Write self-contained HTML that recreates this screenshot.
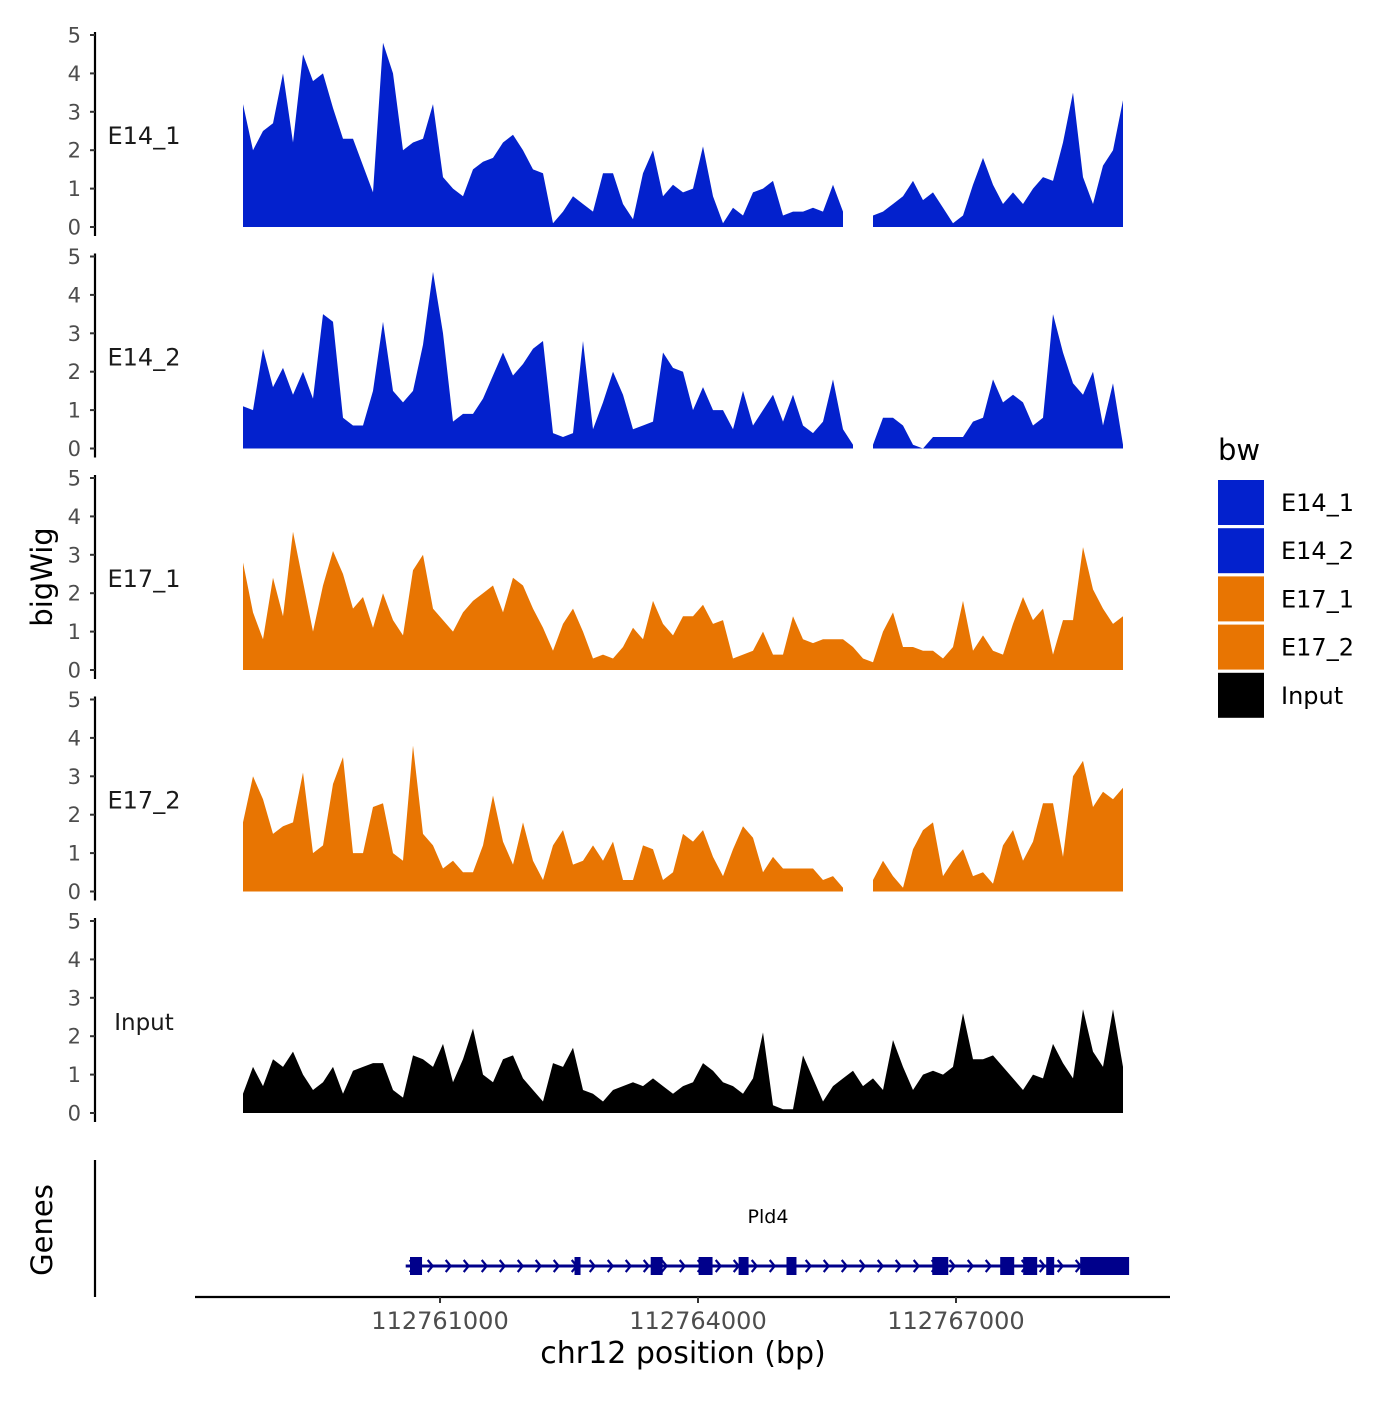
<!DOCTYPE html>
<html><head><meta charset="utf-8"><style>
body{margin:0;background:#fff}
svg text{font-family:"DejaVu Sans","Liberation Sans",sans-serif}
</style></head><body>
<svg id="c" width="1400" height="1400" xmlns="http://www.w3.org/2000/svg"></svg>
<script>
const genomeStart = 112758709, genomeEnd = 112768942;
const trackNames = ["E14_1","E14_2","E17_1","E17_2","Input"];
const trackColors = ["#0321cd","#0321cd","#e87502","#e87502","#000000"];
const yTicks = [0,1,2,3,4,5];
const xTicks = [112761000,112764000,112767000];
const xTickLabels = ["112761000","112764000","112767000"];
const e14_1 = [3.2,2.0,2.5,2.7,4.0,2.2,4.5,3.8,4.0,3.1,2.3,2.3,1.6,0.9,4.8,4.0,2.0,2.2,2.3,3.2,1.3,1.0,0.8,1.5,1.7,1.8,2.2,2.4,2.0,1.5,1.4,0.1,0.4,0.8,0.6,0.4,1.4,1.4,0.6,0.2,1.4,2.0,0.8,1.1,0.9,1.0,2.1,0.8,0.1,0.5,0.3,0.9,1.0,1.2,0.3,0.4,0.4,0.5,0.4,1.1,0.4,null,null,0.3,0.4,0.6,0.8,1.2,0.7,0.9,0.5,0.1,0.3,1.1,1.8,1.1,0.6,0.9,0.6,1.0,1.3,1.2,2.2,3.5,1.3,0.6,1.6,2.0,3.3];
const e14_2 = [1.1,1.0,2.6,1.6,2.1,1.4,2.0,1.3,3.5,3.3,0.8,0.6,0.6,1.5,3.3,1.5,1.2,1.5,2.7,4.6,3.0,0.7,0.9,0.9,1.3,1.9,2.5,1.9,2.2,2.6,2.8,0.4,0.3,0.4,2.8,0.5,1.2,2.0,1.4,0.5,0.6,0.7,2.5,2.1,2.0,1.0,1.6,1.0,1.0,0.5,1.5,0.6,1.0,1.4,0.7,1.4,0.6,0.4,0.7,1.8,0.5,0.1,null,0.1,0.8,0.8,0.6,0.1,0.0,0.3,0.3,0.3,0.3,0.7,0.8,1.8,1.2,1.4,1.2,0.6,0.8,3.5,2.5,1.7,1.4,2.0,0.6,1.7,0.1];
const e17_1 = [2.8,1.5,0.8,2.4,1.4,3.6,2.3,1.0,2.2,3.1,2.5,1.6,1.9,1.1,2.0,1.3,0.9,2.6,3.0,1.6,1.3,1.0,1.5,1.8,2.0,2.2,1.5,2.4,2.2,1.6,1.1,0.5,1.2,1.6,1.0,0.3,0.4,0.3,0.6,1.1,0.8,1.8,1.2,0.9,1.4,1.4,1.7,1.2,1.3,0.3,0.4,0.5,1.0,0.4,0.4,1.4,0.8,0.7,0.8,0.8,0.8,0.6,0.3,0.2,1.0,1.5,0.6,0.6,0.5,0.5,0.3,0.6,1.8,0.5,0.9,0.5,0.4,1.2,1.9,1.3,1.6,0.4,1.3,1.3,3.2,2.1,1.6,1.2,1.4];
const e17_2 = [1.8,3.0,2.4,1.5,1.7,1.8,3.1,1.0,1.2,2.8,3.5,1.0,1.0,2.2,2.3,1.0,0.8,3.8,1.5,1.2,0.6,0.8,0.5,0.5,1.2,2.5,1.3,0.7,1.8,0.8,0.3,1.2,1.6,0.7,0.8,1.2,0.8,1.3,0.3,0.3,1.2,1.1,0.3,0.5,1.5,1.3,1.6,0.9,0.4,1.1,1.7,1.4,0.5,0.9,0.6,0.6,0.6,0.6,0.3,0.4,0.1,null,null,0.3,0.8,0.4,0.1,1.1,1.6,1.8,0.4,0.8,1.1,0.4,0.5,0.2,1.2,1.6,0.8,1.3,2.3,2.3,0.9,3.0,3.4,2.2,2.6,2.4,2.7];
const input = [0.5,1.2,0.7,1.4,1.2,1.6,1.0,0.6,0.8,1.2,0.5,1.1,1.2,1.3,1.3,0.6,0.4,1.5,1.4,1.2,1.8,0.8,1.4,2.2,1.0,0.8,1.4,1.5,0.9,0.6,0.3,1.3,1.2,1.7,0.6,0.5,0.3,0.6,0.7,0.8,0.7,0.9,0.7,0.5,0.7,0.8,1.3,1.1,0.8,0.7,0.5,0.9,2.1,0.2,0.1,0.1,1.5,0.9,0.3,0.7,0.9,1.1,0.7,0.9,0.6,1.9,1.2,0.6,1.0,1.1,1.0,1.2,2.6,1.4,1.4,1.5,1.2,0.9,0.6,1.0,0.9,1.8,1.3,0.9,2.7,1.6,1.2,2.7,1.2];
const tracks = [e14_1,e14_2,e17_1,e17_2,input];
const geneStart = 112760601, geneEnd = 112769001;
const exonStarts = [112760651,112762564,112763450,112764007,112764472,112765029,112766724,112767514,112767781,112768049,112768444];
const exonEnds =   [112760791,112762634,112763589,112764169,112764588,112765145,112766910,112767677,112767944,112768142,112769013];

const svg = document.getElementById('c');
const NS = "http://www.w3.org/2000/svg";
const X0 = 243, X1 = 1123;
function xs(g){ return X0 + (g - genomeStart) / (genomeEnd - genomeStart) * (X1 - X0); }
const base0 = 227, step = 221.5, unit = 38.4;
function ys(t, v){ return base0 + t*step - v*unit; }
function el(tag, attrs, parent){ const e = document.createElementNS(NS, tag); for (const k in attrs) e.setAttribute(k, attrs[k]); (parent||svg).appendChild(e); return e; }
function txt(s, attrs, parent){ const e = el('text', attrs, parent); e.textContent = s; return e; }

tracks.forEach((vals, t) => {
  const g = el('g', {});
  
  
  const n = vals.length;
  const px = i => X0 + i/(n-1)*(X1-X0);
  let seg = [];
  const flush = () => {
    if (seg.length > 1) {
      let d = 'M' + px(seg[0]) + ',' + ys(t,0);
      seg.forEach(i => { d += 'L' + px(i).toFixed(1) + ',' + ys(t, vals[i]).toFixed(1); });
      d += 'L' + px(seg[seg.length-1]) + ',' + ys(t,0) + 'Z';
      const p = el('path', {d: d, fill: trackColors[t]}, g);
      
      
    }
    seg = [];
  };
  vals.forEach((v, i) => { if (v === null) flush(); else seg.push(i); });
  flush();
  const ax = el('line', {x1:95, x2:95, y1: ys(t,5)-3, y2: ys(t,0)+9, stroke:'#000', 'stroke-width':2.2});
  
  
  yTicks.forEach(v => {
    el('line', {x1:90, x2:95, y1: ys(t,v), y2: ys(t,v), stroke:'#333', 'stroke-width':2});
    const tl = txt(String(v), {x:81, y: ys(t,v)+7.5, 'text-anchor':'end', 'font-size':21, fill:'#4d4d4d'});
    
    
  });
  const lab = txt(trackNames[t], {x:144, y: ys(t,2.5)+13, 'text-anchor':'middle', 'font-size':t===4?23:24, fill:'#1a1a1a'});
  
  
});

const yt = txt('bigWig', {x:0, y:0, transform:'translate(52,577) rotate(-90)', 'text-anchor':'middle', 'font-size':29});


const gt = txt('Genes', {x:0, y:0, transform:'translate(52,1230) rotate(-90)', 'text-anchor':'middle', 'font-size':29});


el('line', {x1:95, x2:95, y1:1160, y2:1297, stroke:'#000', 'stroke-width':2.2});

const gg = el('g', {});


const gy = 1266;
el('line', {x1: xs(geneStart), x2: xs(geneEnd), y1: gy, y2: gy, stroke:'#00008b', 'stroke-width':3}, gg);
for (let x = xs(geneStart) + 4; x < xs(geneEnd) - 20; x += 18) {
  el('path', {d:`M${x},${gy-6}L${x+5},${gy}L${x},${gy+6}`, fill:'none', stroke:'#00008b', 'stroke-width':2.2}, gg);
}
exonStarts.forEach((s, i) => {
  const r = el('rect', {x: xs(s), y: gy-9, width: Math.max(4, xs(exonEnds[i]) - xs(s)), height: 18, fill:'#00008b'}, gg);
  
  
});
const gl = txt('Pld4', {x:768, y:1223, 'text-anchor':'middle', 'font-size':19}, gg);



const xa = el('line', {x1:195, x2:1170, y1:1297, y2:1297, stroke:'#000', 'stroke-width':2.2});


xTicks.forEach((v, i) => {
  el('line', {x1: xs(v), x2: xs(v), y1:1297, y2:1303, stroke:'#333', 'stroke-width':2});
  const l = txt(xTickLabels[i], {x: xs(v), y:1329, 'text-anchor':'middle', 'font-size':24, fill:'#4d4d4d'});
  
  
});
const xt = txt('chr12 position (bp)', {x:683, y:1363, 'text-anchor':'middle', 'font-size':30});



const lg = el('g', {});


const lt = txt('bw', {x:1218, y:460, 'font-size':29}, lg);


trackNames.forEach((n, i) => {
  const y = 480 + i*48.2;
  const k = el('rect', {x:1218, y:y, width:46, height:45, fill: trackColors[i]}, lg);
  
  
  const t = txt(n, {x:1281, y:y+31, 'font-size':24}, lg);
  
  
});
</script>
</body></html>
